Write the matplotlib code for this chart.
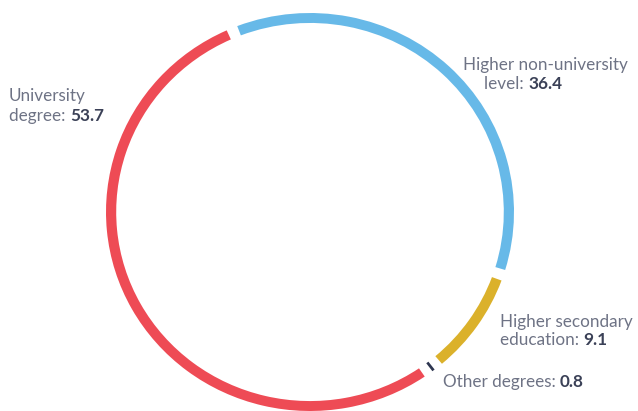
import numpy as np
import matplotlib
matplotlib.use('Agg')
import matplotlib.pyplot as plt
from matplotlib.patches import Wedge
from matplotlib.transforms import Affine2D

plt.rcParams['font.family'] = ['Lato', 'DejaVu Sans']

# share of people by education level
categories = ['Higher non-university level', 'Higher secondary education', 'Other degrees', 'University degree']
values = [36.4, 9.1, 0.8, 53.7]
colors = ['#67B9E8', '#DBB12B', '#2E3650', '#EE4B55']

W, H = 638, 411
fig = plt.figure(figsize=(W / 100, H / 100), dpi=100)
ax = fig.add_axes([0, 0, 1, 1])
ax.set_xlim(0, W)
ax.set_ylim(0, H)
ax.axis('off')

# ring geometry (pixels, y up)
cx, cy = 310, H - 212
rx, ry = 204, 199
ring = 0.05
start = 90 + 22.5      # first slice begins a little left of 12 o'clock
gap = 3.2              # degrees left blank between slices
min_span = 0.8

ring_tf = Affine2D().scale(rx, ry).translate(cx, cy) + ax.transData
total = sum(values)
a = start
for v, c in zip(values, colors):
    span = v / total * 360
    t_hi = a
    t_lo = a - span
    mid = (t_hi + t_lo) / 2
    half = max((span - gap) / 2, min_span / 2)
    w = Wedge((0, 0), 1.0, mid - half, mid + half, width=ring, facecolor=c,
              edgecolor='none', transform=ring_tf)
    ax.add_patch(w)
    a = t_lo

grey = '#6E7385'
dark = '#3B4157'
fs = 12.3


def label(x, y, plain, bold=None):
    # x, y: left edge and baseline in image pixels (y down)
    t = ax.text(x, H - y, plain, color=grey, fontsize=fs, va='baseline', ha='left')
    if bold is not None:
        ax.annotate(bold, xy=(1, 0), xycoords=t, va='bottom', ha='left',
                    color=dark, fontsize=fs, fontweight='bold')


label(9, 101, 'University')
label(9, 121, 'degree: ', '53.7')
label(463, 70, 'Higher non-university')
label(484, 89, 'level: ', '36.4')
label(500, 327, 'Higher secondary')
label(500, 345, 'education: ', '9.1')
label(443, 387, 'Other degrees: ', '0.8')

fig.savefig('out.png', dpi=100)
